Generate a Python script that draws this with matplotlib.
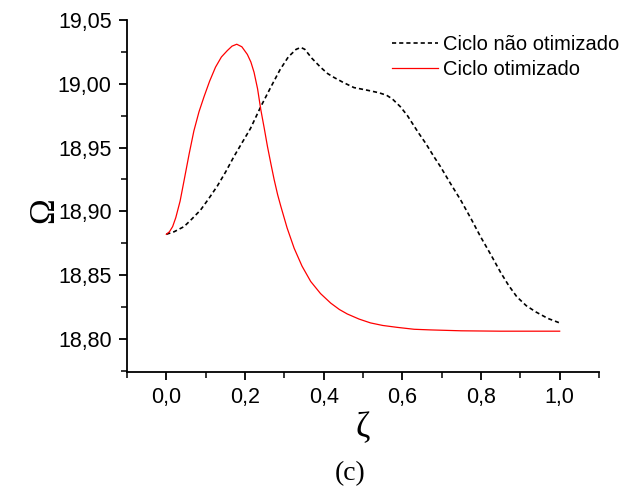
#!/usr/bin/env python

import matplotlib
matplotlib.use('Agg')
import matplotlib.pyplot as plt
from matplotlib.ticker import MultipleLocator, FuncFormatter

# Ciclo não otimizado (black dashed)
zeta_nao = [0.0, 0.02, 0.045, 0.065, 0.087, 0.108, 0.130, 0.151, 0.172, 0.193,
            0.214, 0.240, 0.265, 0.289, 0.310, 0.330, 0.342, 0.352, 0.370, 0.392,
            0.410, 0.426, 0.450, 0.477, 0.510, 0.540, 0.560, 0.575, 0.595, 0.613,
            0.640, 0.660, 0.680, 0.697, 0.720, 0.748, 0.775, 0.799, 0.825, 0.850,
            0.870, 0.891, 0.915, 0.940, 0.970, 1.0]
omega_nao = [18.882, 18.884, 18.888, 18.894, 18.901, 18.910, 18.920, 18.931, 18.943, 18.954,
             18.965, 18.982, 18.997, 19.011, 19.021, 19.027, 19.0285, 19.027, 19.020, 19.013,
             19.008, 19.005, 19.001, 18.997, 18.995, 18.993, 18.991, 18.988, 18.982, 18.975,
             18.962, 18.953, 18.943, 18.935, 18.923, 18.909, 18.894, 18.880, 18.866, 18.852,
             18.842, 18.833, 18.826, 18.821, 18.816, 18.8125]

# Ciclo otimizado (red solid)
zeta_ot = [0.0, 0.008, 0.016, 0.024, 0.035, 0.045, 0.058, 0.070, 0.083, 0.096, 0.110,
           0.125, 0.140, 0.155, 0.167, 0.179, 0.192, 0.206, 0.215, 0.223, 0.232,
           0.240, 0.249, 0.257, 0.266, 0.274, 0.283, 0.291, 0.307, 0.325, 0.345,
           0.367, 0.392, 0.418, 0.440, 0.460, 0.490, 0.519, 0.550, 0.587, 0.630,
           0.672, 0.750, 0.850, 1.0]
omega_ot = [18.882, 18.884, 18.888, 18.895, 18.908, 18.924, 18.945, 18.963, 18.978, 18.990, 19.002,
            19.013, 19.021, 19.026, 19.0295, 19.031, 19.029, 19.023, 19.017, 19.009, 18.996,
            18.980, 18.965, 18.951, 18.937, 18.925, 18.913, 18.904, 18.887, 18.871, 18.857,
            18.845, 18.8355, 18.828, 18.823, 18.8195, 18.8155, 18.8125, 18.8105, 18.809, 18.8075,
            18.807, 18.8063, 18.806, 18.806]

sans = ['Liberation Sans', 'DejaVu Sans']
serif = ['Liberation Serif', 'DejaVu Serif']


def comma(v, pos):
    return ('%.2f' % v).replace('.', ',')


def comma1(v, pos):
    return ('%.1f' % v).replace('.', ',')


fig = plt.figure(figsize=(6.27, 4.92), dpi=100)
ax = fig.add_axes([127 / 627, 1 - 372 / 492, 472 / 627, 352 / 492])

ax.plot(zeta_nao, omega_nao, color='black', lw=1.2, dashes=(2.5, 1.8),
        label='Ciclo não otimizado')
ax.plot(zeta_ot, omega_ot, color='red', lw=0.9, label='Ciclo otimizado')

ax.set_xlim(-0.1, 1.1)
ax.set_ylim(18.774, 19.05)

ax.spines['top'].set_visible(False)
ax.spines['right'].set_visible(False)
ax.spines['left'].set_linewidth(1.3)
ax.spines['bottom'].set_linewidth(1.3)

ax.xaxis.set_major_locator(MultipleLocator(0.2))
ax.xaxis.set_minor_locator(MultipleLocator(0.1))
ax.yaxis.set_major_locator(MultipleLocator(0.05))
ax.yaxis.set_minor_locator(MultipleLocator(0.025))
ax.xaxis.set_major_formatter(FuncFormatter(comma1))
ax.yaxis.set_major_formatter(FuncFormatter(comma))
ax.tick_params(which='major', direction='out', length=6, width=1.3, pad=5)
ax.tick_params(which='minor', direction='out', length=4, width=1.1)
for lab in ax.get_xticklabels() + ax.get_yticklabels():
    lab.set_family(sans)
    lab.set_fontsize(15.5)

ax.set_xlabel('ζ', family=serif, fontsize=25)
ax.xaxis.set_label_coords(0.5, -0.115)
ax.set_ylabel('Ω', family=serif, fontsize=25)
ax.yaxis.set_label_coords(-0.14, 0.46)

fig.text(350 / 627, 1 - 474 / 492, '(c)', family=serif, fontsize=20,
         ha='center', va='center')

leg = ax.legend(loc='upper left', bbox_to_anchor=((386 - 127) / 472, 0.975),
                frameon=False, prop={'family': sans, 'size': 14.5},
                handlelength=2.3, handletextpad=0.25, labelspacing=0.32,
                borderpad=0.3, borderaxespad=0)

fig.savefig('out.png', dpi=100)
